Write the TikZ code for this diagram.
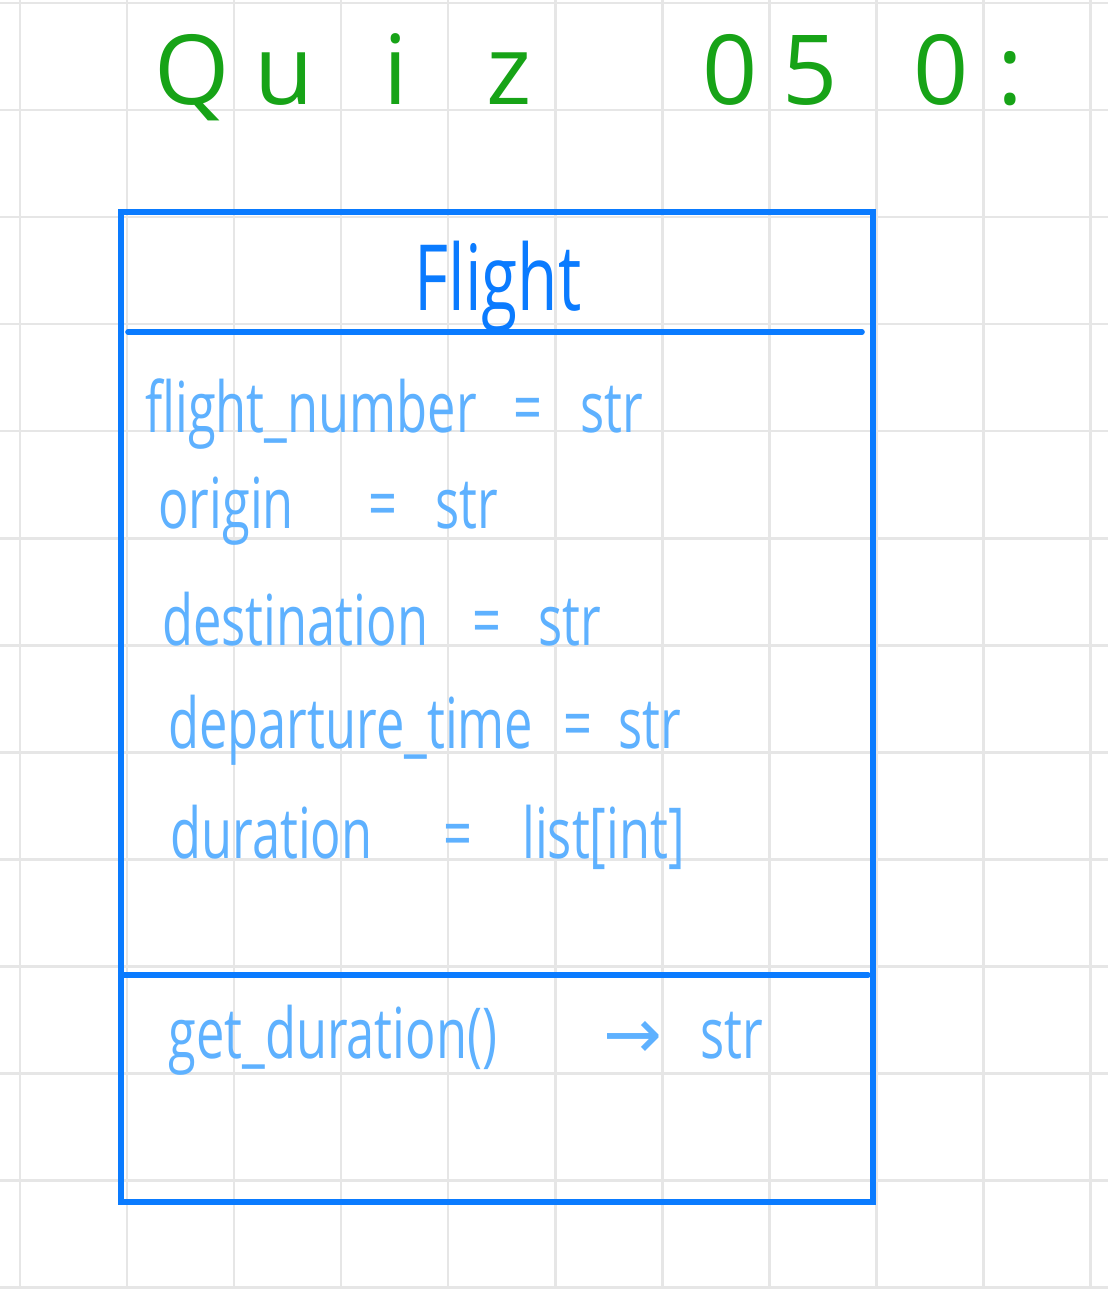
\documentclass[tikz,border=0pt]{standalone}
\usepackage{fontspec}
\newfontfamily\hand[FakeStretch=0.72]{Open Sans}
\newfontfamily\quizfont{Open Sans}
\newfontfamily\arrowfont{DejaVu Sans}
\definecolor{boxblue}{HTML}{0A7BFF}
\definecolor{textblue}{HTML}{5EB1FF}
\definecolor{quizgreen}{HTML}{17A317}
\definecolor{gridgray}{HTML}{E6E6E6}

\begin{document}
\begin{tikzpicture}[x=0.2mm,y=-0.2mm,
  gridline/.style={gridgray,line width=1.7pt},
  classbox/.style={boxblue,line width=3.2pt},
  quiz/.style={anchor=base,inner sep=0pt,text=quizgreen,font=\quizfont\fontsize{55}{60}\selectfont},
  title/.style={anchor=base,inner sep=0pt,text=boxblue,font=\hand\fontsize{52}{58}\selectfont},
  attr/.style={anchor=base west,inner sep=0pt,text=textblue,font=\hand\fontsize{40}{44}\selectfont}]
\useasboundingbox (0,0) rectangle (1108,1289);
\fill[white] (0,0) rectangle (1108,1289);
% grid paper
\foreach \gx in {20,127,...,1090} \draw[gridline] (\gx,0) -- (\gx,1289);
\foreach \gy in {3,110,...,1287} \draw[gridline] (0,\gy) -- (1108,\gy);
% heading
\foreach \c/\cx [count=\i] in {Q/192,u/284,i/396,z/509,0/730,5/810,0/941,:/1010}
  \node[quiz] (quiz\i) at (\cx,104) {\c};
% class box
\draw[classbox] (121,212) rectangle (873,1202);
\draw[classbox,line cap=round] (128,332) -- (862,332);
\draw[classbox,line cap=round] (121,975) -- (868,975);
\node[title] (flight) at (498,310) {Flight};
% attributes
\node[attr] (fnum) at (145,432) {flight\_number};
\node[attr] (fnumeq) at (513,432) {=};
\node[attr] (fnumtype) at (580,432) {str};
\node[attr] (origin) at (158,528) {origin};
\node[attr] (origineq) at (368,528) {=};
\node[attr] (origintype) at (435,528) {str};
\node[attr] (dest) at (162,645) {destination};
\node[attr] (desteq) at (472,645) {=};
\node[attr] (desttype) at (538,645) {str};
\node[attr] (dep) at (168,748) {departure\_time};
\node[attr] (depeq) at (563,748) {=};
\node[attr] (deptype) at (618,748) {str};
\node[attr] (dur) at (170,858) {duration};
\node[attr] (dureq) at (443,858) {=};
\node[attr] (durtype) at (522,858) {list[int]};
% method
\node[attr] (getdur) at (168,1058) {get\_duration()};
\node[attr,font=\arrowfont\fontsize{40}{44}\selectfont] (ret) at (603,1058) {→};
\node[attr] (rettype) at (700,1058) {str};
\end{tikzpicture}
\end{document}
